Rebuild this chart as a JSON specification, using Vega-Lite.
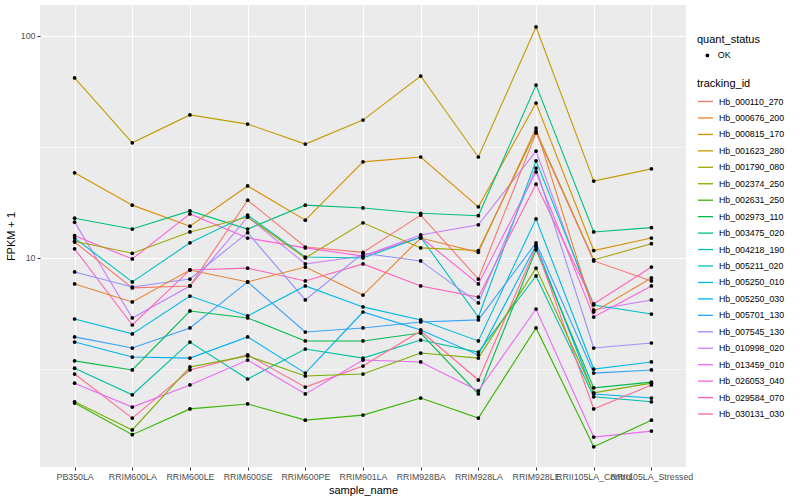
{
  "$schema": "https://vega.github.io/schema/vega-lite/v6.json",
  "width": 646,
  "height": 462,
  "autosize": "none",
  "padding": {"left": 40, "top": 5, "right": 114, "bottom": 33},
  "background": "white",
  "config": {
    "font": "Liberation Sans",
    "view": {"fill": "#EBEBEB", "stroke": null},
    "axis": {
      "domain": false,
      "grid": true,
      "gridColor": "#FFFFFF",
      "gridWidth": 1.1,
      "tickColor": "#333333",
      "tickSize": 3,
      "tickWidth": 1,
      "labelColor": "#4D4D4D",
      "labelFontSize": 8.8,
      "labelPadding": 2,
      "titleColor": "#000000",
      "titleFontSize": 11,
      "titleFontWeight": "normal"
    },
    "legend": {
      "titleFontSize": 11,
      "titleFontWeight": "normal",
      "titleColor": "#000000",
      "labelFontSize": 8.8,
      "labelColor": "#000000",
      "padding": 0
    }
  },
  "datasets": {
    "fpkm": [
      {"tracking_id":"Hb_001623_280","sample_name":"PB350LA","fpkm":64.7,"quant_status":"OK"},
      {"tracking_id":"Hb_001623_280","sample_name":"RRIM600LA","fpkm":33.0,"quant_status":"OK"},
      {"tracking_id":"Hb_001623_280","sample_name":"RRIM600LE","fpkm":44.1,"quant_status":"OK"},
      {"tracking_id":"Hb_001623_280","sample_name":"RRIM600SE","fpkm":40.1,"quant_status":"OK"},
      {"tracking_id":"Hb_001623_280","sample_name":"RRIM600PE","fpkm":32.6,"quant_status":"OK"},
      {"tracking_id":"Hb_001623_280","sample_name":"RRIM901LA","fpkm":41.8,"quant_status":"OK"},
      {"tracking_id":"Hb_001623_280","sample_name":"RRIM928BA","fpkm":66.0,"quant_status":"OK"},
      {"tracking_id":"Hb_001623_280","sample_name":"RRIM928LA","fpkm":28.5,"quant_status":"OK"},
      {"tracking_id":"Hb_001623_280","sample_name":"RRIM928LE","fpkm":109.8,"quant_status":"OK"},
      {"tracking_id":"Hb_001623_280","sample_name":"RRII105LA_Control","fpkm":22.2,"quant_status":"OK"},
      {"tracking_id":"Hb_001623_280","sample_name":"RRII105LA_Stressed","fpkm":25.2,"quant_status":"OK"},

      {"tracking_id":"Hb_000815_170","sample_name":"PB350LA","fpkm":24.2,"quant_status":"OK"},
      {"tracking_id":"Hb_000815_170","sample_name":"RRIM600LA","fpkm":17.3,"quant_status":"OK"},
      {"tracking_id":"Hb_000815_170","sample_name":"RRIM600LE","fpkm":13.9,"quant_status":"OK"},
      {"tracking_id":"Hb_000815_170","sample_name":"RRIM600SE","fpkm":21.1,"quant_status":"OK"},
      {"tracking_id":"Hb_000815_170","sample_name":"RRIM600PE","fpkm":14.8,"quant_status":"OK"},
      {"tracking_id":"Hb_000815_170","sample_name":"RRIM901LA","fpkm":27.1,"quant_status":"OK"},
      {"tracking_id":"Hb_000815_170","sample_name":"RRIM928BA","fpkm":28.5,"quant_status":"OK"},
      {"tracking_id":"Hb_000815_170","sample_name":"RRIM928LA","fpkm":17.0,"quant_status":"OK"},
      {"tracking_id":"Hb_000815_170","sample_name":"RRIM928LE","fpkm":49.9,"quant_status":"OK"},
      {"tracking_id":"Hb_000815_170","sample_name":"RRII105LA_Control","fpkm":10.8,"quant_status":"OK"},
      {"tracking_id":"Hb_000815_170","sample_name":"RRII105LA_Stressed","fpkm":12.3,"quant_status":"OK"},

      {"tracking_id":"Hb_003475_020","sample_name":"PB350LA","fpkm":15.1,"quant_status":"OK"},
      {"tracking_id":"Hb_003475_020","sample_name":"RRIM600LA","fpkm":13.5,"quant_status":"OK"},
      {"tracking_id":"Hb_003475_020","sample_name":"RRIM600LE","fpkm":16.3,"quant_status":"OK"},
      {"tracking_id":"Hb_003475_020","sample_name":"RRIM600SE","fpkm":13.5,"quant_status":"OK"},
      {"tracking_id":"Hb_003475_020","sample_name":"RRIM600PE","fpkm":17.3,"quant_status":"OK"},
      {"tracking_id":"Hb_003475_020","sample_name":"RRIM901LA","fpkm":16.8,"quant_status":"OK"},
      {"tracking_id":"Hb_003475_020","sample_name":"RRIM928BA","fpkm":15.9,"quant_status":"OK"},
      {"tracking_id":"Hb_003475_020","sample_name":"RRIM928LA","fpkm":15.5,"quant_status":"OK"},
      {"tracking_id":"Hb_003475_020","sample_name":"RRIM928LE","fpkm":60.1,"quant_status":"OK"},
      {"tracking_id":"Hb_003475_020","sample_name":"RRII105LA_Control","fpkm":13.1,"quant_status":"OK"},
      {"tracking_id":"Hb_003475_020","sample_name":"RRII105LA_Stressed","fpkm":13.7,"quant_status":"OK"},

      {"tracking_id":"Hb_010998_020","sample_name":"PB350LA","fpkm":14.5,"quant_status":"OK"},
      {"tracking_id":"Hb_010998_020","sample_name":"RRIM600LA","fpkm":5.37,"quant_status":"OK"},
      {"tracking_id":"Hb_010998_020","sample_name":"RRIM600LE","fpkm":7.48,"quant_status":"OK"},
      {"tracking_id":"Hb_010998_020","sample_name":"RRIM600SE","fpkm":15.3,"quant_status":"OK"},
      {"tracking_id":"Hb_010998_020","sample_name":"RRIM600PE","fpkm":9.4,"quant_status":"OK"},
      {"tracking_id":"Hb_010998_020","sample_name":"RRIM901LA","fpkm":10.2,"quant_status":"OK"},
      {"tracking_id":"Hb_010998_020","sample_name":"RRIM928BA","fpkm":12.7,"quant_status":"OK"},
      {"tracking_id":"Hb_010998_020","sample_name":"RRIM928LA","fpkm":14.1,"quant_status":"OK"},
      {"tracking_id":"Hb_010998_020","sample_name":"RRIM928LE","fpkm":30.3,"quant_status":"OK"},
      {"tracking_id":"Hb_010998_020","sample_name":"RRII105LA_Control","fpkm":5.83,"quant_status":"OK"},
      {"tracking_id":"Hb_010998_020","sample_name":"RRII105LA_Stressed","fpkm":6.47,"quant_status":"OK"},

      {"tracking_id":"Hb_026053_040","sample_name":"PB350LA","fpkm":12.6,"quant_status":"OK"},
      {"tracking_id":"Hb_026053_040","sample_name":"RRIM600LA","fpkm":9.9,"quant_status":"OK"},
      {"tracking_id":"Hb_026053_040","sample_name":"RRIM600LE","fpkm":15.8,"quant_status":"OK"},
      {"tracking_id":"Hb_026053_040","sample_name":"RRIM600SE","fpkm":12.3,"quant_status":"OK"},
      {"tracking_id":"Hb_026053_040","sample_name":"RRIM600PE","fpkm":11.1,"quant_status":"OK"},
      {"tracking_id":"Hb_026053_040","sample_name":"RRIM901LA","fpkm":10.2,"quant_status":"OK"},
      {"tracking_id":"Hb_026053_040","sample_name":"RRIM928BA","fpkm":12.4,"quant_status":"OK"},
      {"tracking_id":"Hb_026053_040","sample_name":"RRIM928LA","fpkm":7.64,"quant_status":"OK"},
      {"tracking_id":"Hb_026053_040","sample_name":"RRIM928LE","fpkm":24.4,"quant_status":"OK"},
      {"tracking_id":"Hb_026053_040","sample_name":"RRII105LA_Control","fpkm":5.42,"quant_status":"OK"},
      {"tracking_id":"Hb_026053_040","sample_name":"RRII105LA_Stressed","fpkm":7.48,"quant_status":"OK"},

      {"tracking_id":"Hb_005211_020","sample_name":"PB350LA","fpkm":12.3,"quant_status":"OK"},
      {"tracking_id":"Hb_005211_020","sample_name":"RRIM600LA","fpkm":7.8,"quant_status":"OK"},
      {"tracking_id":"Hb_005211_020","sample_name":"RRIM600LE","fpkm":11.7,"quant_status":"OK"},
      {"tracking_id":"Hb_005211_020","sample_name":"RRIM600SE","fpkm":15.6,"quant_status":"OK"},
      {"tracking_id":"Hb_005211_020","sample_name":"RRIM600PE","fpkm":10.1,"quant_status":"OK"},
      {"tracking_id":"Hb_005211_020","sample_name":"RRIM901LA","fpkm":10.0,"quant_status":"OK"},
      {"tracking_id":"Hb_005211_020","sample_name":"RRIM928BA","fpkm":12.4,"quant_status":"OK"},
      {"tracking_id":"Hb_005211_020","sample_name":"RRIM928LA","fpkm":5.42,"quant_status":"OK"},
      {"tracking_id":"Hb_005211_020","sample_name":"RRIM928LE","fpkm":27.4,"quant_status":"OK"},
      {"tracking_id":"Hb_005211_020","sample_name":"RRII105LA_Control","fpkm":6.14,"quant_status":"OK"},
      {"tracking_id":"Hb_005211_020","sample_name":"RRII105LA_Stressed","fpkm":5.59,"quant_status":"OK"},

      {"tracking_id":"Hb_001790_080","sample_name":"PB350LA","fpkm":11.9,"quant_status":"OK"},
      {"tracking_id":"Hb_001790_080","sample_name":"RRIM600LA","fpkm":10.5,"quant_status":"OK"},
      {"tracking_id":"Hb_001790_080","sample_name":"RRIM600LE","fpkm":13.1,"quant_status":"OK"},
      {"tracking_id":"Hb_001790_080","sample_name":"RRIM600SE","fpkm":15.3,"quant_status":"OK"},
      {"tracking_id":"Hb_001790_080","sample_name":"RRIM600PE","fpkm":10.0,"quant_status":"OK"},
      {"tracking_id":"Hb_001790_080","sample_name":"RRIM901LA","fpkm":14.4,"quant_status":"OK"},
      {"tracking_id":"Hb_001790_080","sample_name":"RRIM928BA","fpkm":11.1,"quant_status":"OK"},
      {"tracking_id":"Hb_001790_080","sample_name":"RRIM928LA","fpkm":10.8,"quant_status":"OK"},
      {"tracking_id":"Hb_001790_080","sample_name":"RRIM928LE","fpkm":37.3,"quant_status":"OK"},
      {"tracking_id":"Hb_001790_080","sample_name":"RRII105LA_Control","fpkm":9.8,"quant_status":"OK"},
      {"tracking_id":"Hb_001790_080","sample_name":"RRII105LA_Stressed","fpkm":11.6,"quant_status":"OK"},

      {"tracking_id":"Hb_000110_270","sample_name":"PB350LA","fpkm":11.8,"quant_status":"OK"},
      {"tracking_id":"Hb_000110_270","sample_name":"RRIM600LA","fpkm":7.33,"quant_status":"OK"},
      {"tracking_id":"Hb_000110_270","sample_name":"RRIM600LE","fpkm":7.48,"quant_status":"OK"},
      {"tracking_id":"Hb_000110_270","sample_name":"RRIM600SE","fpkm":18.2,"quant_status":"OK"},
      {"tracking_id":"Hb_000110_270","sample_name":"RRIM600PE","fpkm":11.2,"quant_status":"OK"},
      {"tracking_id":"Hb_000110_270","sample_name":"RRIM901LA","fpkm":10.6,"quant_status":"OK"},
      {"tracking_id":"Hb_000110_270","sample_name":"RRIM928BA","fpkm":15.6,"quant_status":"OK"},
      {"tracking_id":"Hb_000110_270","sample_name":"RRIM928LA","fpkm":8.04,"quant_status":"OK"},
      {"tracking_id":"Hb_000110_270","sample_name":"RRIM928LE","fpkm":36.6,"quant_status":"OK"},
      {"tracking_id":"Hb_000110_270","sample_name":"RRII105LA_Control","fpkm":9.7,"quant_status":"OK"},
      {"tracking_id":"Hb_000110_270","sample_name":"RRII105LA_Stressed","fpkm":7.88,"quant_status":"OK"},

      {"tracking_id":"Hb_029584_070","sample_name":"PB350LA","fpkm":11.0,"quant_status":"OK"},
      {"tracking_id":"Hb_029584_070","sample_name":"RRIM600LA","fpkm":4.99,"quant_status":"OK"},
      {"tracking_id":"Hb_029584_070","sample_name":"RRIM600LE","fpkm":8.83,"quant_status":"OK"},
      {"tracking_id":"Hb_029584_070","sample_name":"RRIM600SE","fpkm":9.0,"quant_status":"OK"},
      {"tracking_id":"Hb_029584_070","sample_name":"RRIM600PE","fpkm":7.88,"quant_status":"OK"},
      {"tracking_id":"Hb_029584_070","sample_name":"RRIM901LA","fpkm":9.4,"quant_status":"OK"},
      {"tracking_id":"Hb_029584_070","sample_name":"RRIM928BA","fpkm":7.48,"quant_status":"OK"},
      {"tracking_id":"Hb_029584_070","sample_name":"RRIM928LA","fpkm":6.67,"quant_status":"OK"},
      {"tracking_id":"Hb_029584_070","sample_name":"RRIM928LE","fpkm":21.5,"quant_status":"OK"},
      {"tracking_id":"Hb_029584_070","sample_name":"RRII105LA_Control","fpkm":6.21,"quant_status":"OK"},
      {"tracking_id":"Hb_029584_070","sample_name":"RRII105LA_Stressed","fpkm":9.1,"quant_status":"OK"},

      {"tracking_id":"Hb_007545_130","sample_name":"PB350LA","fpkm":8.65,"quant_status":"OK"},
      {"tracking_id":"Hb_007545_130","sample_name":"RRIM600LA","fpkm":7.4,"quant_status":"OK"},
      {"tracking_id":"Hb_007545_130","sample_name":"RRIM600LE","fpkm":8.04,"quant_status":"OK"},
      {"tracking_id":"Hb_007545_130","sample_name":"RRIM600SE","fpkm":13.0,"quant_status":"OK"},
      {"tracking_id":"Hb_007545_130","sample_name":"RRIM600PE","fpkm":6.47,"quant_status":"OK"},
      {"tracking_id":"Hb_007545_130","sample_name":"RRIM901LA","fpkm":10.5,"quant_status":"OK"},
      {"tracking_id":"Hb_007545_130","sample_name":"RRIM928BA","fpkm":9.7,"quant_status":"OK"},
      {"tracking_id":"Hb_007545_130","sample_name":"RRIM928LA","fpkm":6.27,"quant_status":"OK"},
      {"tracking_id":"Hb_007545_130","sample_name":"RRIM928LE","fpkm":25.4,"quant_status":"OK"},
      {"tracking_id":"Hb_007545_130","sample_name":"RRII105LA_Control","fpkm":3.93,"quant_status":"OK"},
      {"tracking_id":"Hb_007545_130","sample_name":"RRII105LA_Stressed","fpkm":4.14,"quant_status":"OK"},

      {"tracking_id":"Hb_000676_200","sample_name":"PB350LA","fpkm":7.64,"quant_status":"OK"},
      {"tracking_id":"Hb_000676_200","sample_name":"RRIM600LA","fpkm":6.34,"quant_status":"OK"},
      {"tracking_id":"Hb_000676_200","sample_name":"RRIM600LE","fpkm":8.83,"quant_status":"OK"},
      {"tracking_id":"Hb_000676_200","sample_name":"RRIM600SE","fpkm":7.8,"quant_status":"OK"},
      {"tracking_id":"Hb_000676_200","sample_name":"RRIM600PE","fpkm":9.1,"quant_status":"OK"},
      {"tracking_id":"Hb_000676_200","sample_name":"RRIM901LA","fpkm":6.81,"quant_status":"OK"},
      {"tracking_id":"Hb_000676_200","sample_name":"RRIM928BA","fpkm":12.3,"quant_status":"OK"},
      {"tracking_id":"Hb_000676_200","sample_name":"RRIM928LA","fpkm":10.6,"quant_status":"OK"},
      {"tracking_id":"Hb_000676_200","sample_name":"RRIM928LE","fpkm":38.5,"quant_status":"OK"},
      {"tracking_id":"Hb_000676_200","sample_name":"RRII105LA_Control","fpkm":5.71,"quant_status":"OK"},
      {"tracking_id":"Hb_000676_200","sample_name":"RRII105LA_Stressed","fpkm":8.13,"quant_status":"OK"},

      {"tracking_id":"Hb_005250_010","sample_name":"PB350LA","fpkm":5.31,"quant_status":"OK"},
      {"tracking_id":"Hb_005250_010","sample_name":"RRIM600LA","fpkm":4.55,"quant_status":"OK"},
      {"tracking_id":"Hb_005250_010","sample_name":"RRIM600LE","fpkm":6.74,"quant_status":"OK"},
      {"tracking_id":"Hb_005250_010","sample_name":"RRIM600SE","fpkm":5.48,"quant_status":"OK"},
      {"tracking_id":"Hb_005250_010","sample_name":"RRIM600PE","fpkm":7.48,"quant_status":"OK"},
      {"tracking_id":"Hb_005250_010","sample_name":"RRIM901LA","fpkm":6.02,"quant_status":"OK"},
      {"tracking_id":"Hb_005250_010","sample_name":"RRIM928BA","fpkm":5.26,"quant_status":"OK"},
      {"tracking_id":"Hb_005250_010","sample_name":"RRIM928LA","fpkm":4.23,"quant_status":"OK"},
      {"tracking_id":"Hb_005250_010","sample_name":"RRIM928LE","fpkm":15.0,"quant_status":"OK"},
      {"tracking_id":"Hb_005250_010","sample_name":"RRII105LA_Control","fpkm":3.16,"quant_status":"OK"},
      {"tracking_id":"Hb_005250_010","sample_name":"RRII105LA_Stressed","fpkm":3.4,"quant_status":"OK"},

      {"tracking_id":"Hb_005701_130","sample_name":"PB350LA","fpkm":4.41,"quant_status":"OK"},
      {"tracking_id":"Hb_005701_130","sample_name":"RRIM600LA","fpkm":3.93,"quant_status":"OK"},
      {"tracking_id":"Hb_005701_130","sample_name":"RRIM600LE","fpkm":4.84,"quant_status":"OK"},
      {"tracking_id":"Hb_005701_130","sample_name":"RRIM600SE","fpkm":7.8,"quant_status":"OK"},
      {"tracking_id":"Hb_005701_130","sample_name":"RRIM600PE","fpkm":4.64,"quant_status":"OK"},
      {"tracking_id":"Hb_005701_130","sample_name":"RRIM901LA","fpkm":4.84,"quant_status":"OK"},
      {"tracking_id":"Hb_005701_130","sample_name":"RRIM928BA","fpkm":5.15,"quant_status":"OK"},
      {"tracking_id":"Hb_005701_130","sample_name":"RRIM928LA","fpkm":5.26,"quant_status":"OK"},
      {"tracking_id":"Hb_005701_130","sample_name":"RRIM928LE","fpkm":11.7,"quant_status":"OK"},
      {"tracking_id":"Hb_005701_130","sample_name":"RRII105LA_Control","fpkm":3.03,"quant_status":"OK"},
      {"tracking_id":"Hb_005701_130","sample_name":"RRII105LA_Stressed","fpkm":3.13,"quant_status":"OK"},

      {"tracking_id":"Hb_005250_030","sample_name":"PB350LA","fpkm":4.18,"quant_status":"OK"},
      {"tracking_id":"Hb_005250_030","sample_name":"RRIM600LA","fpkm":3.58,"quant_status":"OK"},
      {"tracking_id":"Hb_005250_030","sample_name":"RRIM600LE","fpkm":3.54,"quant_status":"OK"},
      {"tracking_id":"Hb_005250_030","sample_name":"RRIM600SE","fpkm":4.41,"quant_status":"OK"},
      {"tracking_id":"Hb_005250_030","sample_name":"RRIM600PE","fpkm":3.03,"quant_status":"OK"},
      {"tracking_id":"Hb_005250_030","sample_name":"RRIM901LA","fpkm":5.71,"quant_status":"OK"},
      {"tracking_id":"Hb_005250_030","sample_name":"RRIM928BA","fpkm":4.74,"quant_status":"OK"},
      {"tracking_id":"Hb_005250_030","sample_name":"RRIM928LA","fpkm":3.66,"quant_status":"OK"},
      {"tracking_id":"Hb_005250_030","sample_name":"RRIM928LE","fpkm":11.4,"quant_status":"OK"},
      {"tracking_id":"Hb_005250_030","sample_name":"RRII105LA_Control","fpkm":2.44,"quant_status":"OK"},
      {"tracking_id":"Hb_005250_030","sample_name":"RRII105LA_Stressed","fpkm":2.34,"quant_status":"OK"},

      {"tracking_id":"Hb_002973_110","sample_name":"PB350LA","fpkm":3.44,"quant_status":"OK"},
      {"tracking_id":"Hb_002973_110","sample_name":"RRIM600LA","fpkm":3.13,"quant_status":"OK"},
      {"tracking_id":"Hb_002973_110","sample_name":"RRIM600LE","fpkm":5.77,"quant_status":"OK"},
      {"tracking_id":"Hb_002973_110","sample_name":"RRIM600SE","fpkm":5.37,"quant_status":"OK"},
      {"tracking_id":"Hb_002973_110","sample_name":"RRIM600PE","fpkm":4.23,"quant_status":"OK"},
      {"tracking_id":"Hb_002973_110","sample_name":"RRIM901LA","fpkm":4.23,"quant_status":"OK"},
      {"tracking_id":"Hb_002973_110","sample_name":"RRIM928BA","fpkm":4.59,"quant_status":"OK"},
      {"tracking_id":"Hb_002973_110","sample_name":"RRIM928LA","fpkm":2.44,"quant_status":"OK"},
      {"tracking_id":"Hb_002973_110","sample_name":"RRIM928LE","fpkm":10.9,"quant_status":"OK"},
      {"tracking_id":"Hb_002973_110","sample_name":"RRII105LA_Control","fpkm":2.6,"quant_status":"OK"},
      {"tracking_id":"Hb_002973_110","sample_name":"RRII105LA_Stressed","fpkm":2.76,"quant_status":"OK"},

      {"tracking_id":"Hb_004218_190","sample_name":"PB350LA","fpkm":3.19,"quant_status":"OK"},
      {"tracking_id":"Hb_004218_190","sample_name":"RRIM600LA","fpkm":2.42,"quant_status":"OK"},
      {"tracking_id":"Hb_004218_190","sample_name":"RRIM600LE","fpkm":4.18,"quant_status":"OK"},
      {"tracking_id":"Hb_004218_190","sample_name":"RRIM600SE","fpkm":2.85,"quant_status":"OK"},
      {"tracking_id":"Hb_004218_190","sample_name":"RRIM600PE","fpkm":3.89,"quant_status":"OK"},
      {"tracking_id":"Hb_004218_190","sample_name":"RRIM901LA","fpkm":3.54,"quant_status":"OK"},
      {"tracking_id":"Hb_004218_190","sample_name":"RRIM928BA","fpkm":4.27,"quant_status":"OK"},
      {"tracking_id":"Hb_004218_190","sample_name":"RRIM928LA","fpkm":3.77,"quant_status":"OK"},
      {"tracking_id":"Hb_004218_190","sample_name":"RRIM928LE","fpkm":8.3,"quant_status":"OK"},
      {"tracking_id":"Hb_004218_190","sample_name":"RRII105LA_Control","fpkm":2.37,"quant_status":"OK"},
      {"tracking_id":"Hb_004218_190","sample_name":"RRII105LA_Stressed","fpkm":2.25,"quant_status":"OK"},

      {"tracking_id":"Hb_030131_030","sample_name":"PB350LA","fpkm":3.0,"quant_status":"OK"},
      {"tracking_id":"Hb_030131_030","sample_name":"RRIM600LA","fpkm":1.9,"quant_status":"OK"},
      {"tracking_id":"Hb_030131_030","sample_name":"RRIM600LE","fpkm":3.13,"quant_status":"OK"},
      {"tracking_id":"Hb_030131_030","sample_name":"RRIM600SE","fpkm":3.66,"quant_status":"OK"},
      {"tracking_id":"Hb_030131_030","sample_name":"RRIM600PE","fpkm":2.62,"quant_status":"OK"},
      {"tracking_id":"Hb_030131_030","sample_name":"RRIM901LA","fpkm":3.26,"quant_status":"OK"},
      {"tracking_id":"Hb_030131_030","sample_name":"RRIM928BA","fpkm":4.69,"quant_status":"OK"},
      {"tracking_id":"Hb_030131_030","sample_name":"RRIM928LA","fpkm":2.82,"quant_status":"OK"},
      {"tracking_id":"Hb_030131_030","sample_name":"RRIM928LE","fpkm":11.2,"quant_status":"OK"},
      {"tracking_id":"Hb_030131_030","sample_name":"RRII105LA_Control","fpkm":2.09,"quant_status":"OK"},
      {"tracking_id":"Hb_030131_030","sample_name":"RRII105LA_Stressed","fpkm":2.68,"quant_status":"OK"},

      {"tracking_id":"Hb_013459_010","sample_name":"PB350LA","fpkm":2.73,"quant_status":"OK"},
      {"tracking_id":"Hb_013459_010","sample_name":"RRIM600LA","fpkm":2.13,"quant_status":"OK"},
      {"tracking_id":"Hb_013459_010","sample_name":"RRIM600LE","fpkm":2.68,"quant_status":"OK"},
      {"tracking_id":"Hb_013459_010","sample_name":"RRIM600SE","fpkm":3.47,"quant_status":"OK"},
      {"tracking_id":"Hb_013459_010","sample_name":"RRIM600PE","fpkm":2.44,"quant_status":"OK"},
      {"tracking_id":"Hb_013459_010","sample_name":"RRIM901LA","fpkm":3.47,"quant_status":"OK"},
      {"tracking_id":"Hb_013459_010","sample_name":"RRIM928BA","fpkm":3.4,"quant_status":"OK"},
      {"tracking_id":"Hb_013459_010","sample_name":"RRIM928LA","fpkm":2.52,"quant_status":"OK"},
      {"tracking_id":"Hb_013459_010","sample_name":"RRIM928LE","fpkm":5.89,"quant_status":"OK"},
      {"tracking_id":"Hb_013459_010","sample_name":"RRII105LA_Control","fpkm":1.56,"quant_status":"OK"},
      {"tracking_id":"Hb_013459_010","sample_name":"RRII105LA_Stressed","fpkm":1.66,"quant_status":"OK"},

      {"tracking_id":"Hb_002374_250","sample_name":"PB350LA","fpkm":2.25,"quant_status":"OK"},
      {"tracking_id":"Hb_002374_250","sample_name":"RRIM600LA","fpkm":1.68,"quant_status":"OK"},
      {"tracking_id":"Hb_002374_250","sample_name":"RRIM600LE","fpkm":3.23,"quant_status":"OK"},
      {"tracking_id":"Hb_002374_250","sample_name":"RRIM600SE","fpkm":3.62,"quant_status":"OK"},
      {"tracking_id":"Hb_002374_250","sample_name":"RRIM600PE","fpkm":2.94,"quant_status":"OK"},
      {"tracking_id":"Hb_002374_250","sample_name":"RRIM901LA","fpkm":3.0,"quant_status":"OK"},
      {"tracking_id":"Hb_002374_250","sample_name":"RRIM928BA","fpkm":3.73,"quant_status":"OK"},
      {"tracking_id":"Hb_002374_250","sample_name":"RRIM928LA","fpkm":3.54,"quant_status":"OK"},
      {"tracking_id":"Hb_002374_250","sample_name":"RRIM928LE","fpkm":9.0,"quant_status":"OK"},
      {"tracking_id":"Hb_002374_250","sample_name":"RRII105LA_Control","fpkm":2.47,"quant_status":"OK"},
      {"tracking_id":"Hb_002374_250","sample_name":"RRII105LA_Stressed","fpkm":2.73,"quant_status":"OK"},

      {"tracking_id":"Hb_002631_250","sample_name":"PB350LA","fpkm":2.22,"quant_status":"OK"},
      {"tracking_id":"Hb_002631_250","sample_name":"RRIM600LA","fpkm":1.6,"quant_status":"OK"},
      {"tracking_id":"Hb_002631_250","sample_name":"RRIM600LE","fpkm":2.09,"quant_status":"OK"},
      {"tracking_id":"Hb_002631_250","sample_name":"RRIM600SE","fpkm":2.2,"quant_status":"OK"},
      {"tracking_id":"Hb_002631_250","sample_name":"RRIM600PE","fpkm":1.86,"quant_status":"OK"},
      {"tracking_id":"Hb_002631_250","sample_name":"RRIM901LA","fpkm":1.96,"quant_status":"OK"},
      {"tracking_id":"Hb_002631_250","sample_name":"RRIM928BA","fpkm":2.34,"quant_status":"OK"},
      {"tracking_id":"Hb_002631_250","sample_name":"RRIM928LA","fpkm":1.9,"quant_status":"OK"},
      {"tracking_id":"Hb_002631_250","sample_name":"RRIM928LE","fpkm":4.84,"quant_status":"OK"},
      {"tracking_id":"Hb_002631_250","sample_name":"RRII105LA_Control","fpkm":1.41,"quant_status":"OK"},
      {"tracking_id":"Hb_002631_250","sample_name":"RRII105LA_Stressed","fpkm":1.86,"quant_status":"OK"}
    ]
  },
  "data": {"name": "fpkm"},
  "encoding": {
    "x": {
      "field": "sample_name",
      "type": "nominal",
      "sort": ["PB350LA","RRIM600LA","RRIM600LE","RRIM600SE","RRIM600PE","RRIM901LA","RRIM928BA","RRIM928LA","RRIM928LE","RRII105LA_Control","RRII105LA_Stressed"],
      "scale": {"type": "point", "padding": 0.6},
      "axis": {"title": "sample_name", "labelAngle": 0, "titlePadding": 4, "gridWidth": 1.1}
    },
    "y": {
      "field": "fpkm",
      "type": "quantitative",
      "scale": {"type": "log", "domain": [1.144, 137.9], "nice": false, "zero": false},
      "axis": {
        "title": "FPKM + 1",
        "values": [3.1623, 10, 31.623, 100],
        "labelExpr": "datum.value == 100 ? '100' : datum.value == 10 ? '10' : ''",
        "gridWidth": {"condition": {"test": "datum.value == 10 || datum.value == 100", "value": 1.1}, "value": 0.55},
        "tickOpacity": {"condition": {"test": "datum.value == 10 || datum.value == 100", "value": 1}, "value": 0},
        "titlePadding": 4
      }
    }
  },
  "layer": [
    {
      "mark": {"type": "line", "strokeWidth": 1.1},
      "encoding": {
        "color": {
          "field": "tracking_id",
          "type": "nominal",
          "scale": {
            "domain": ["Hb_000110_270","Hb_000676_200","Hb_000815_170","Hb_001623_280","Hb_001790_080","Hb_002374_250","Hb_002631_250","Hb_002973_110","Hb_003475_020","Hb_004218_190","Hb_005211_020","Hb_005250_010","Hb_005250_030","Hb_005701_130","Hb_007545_130","Hb_010998_020","Hb_013459_010","Hb_026053_040","Hb_029584_070","Hb_030131_030"],
            "range": ["#F8766D","#EA8331","#D89000","#C09B00","#A3A500","#7CAE00","#39B600","#00BB4E","#00BF7D","#00C1A3","#00BFC4","#00BAE0","#00B0F6","#35A2FF","#9590FF","#C77CFF","#E76BF3","#FA62DB","#FF62BC","#FF6C91"]
          },
          "legend": {
            "title": "tracking_id",
            "orient": "none",
            "legendX": 657,
            "legendY": 73,
            "symbolType": "stroke",
            "symbolSize": 225,
            "symbolStrokeWidth": 1.3,
            "rowPadding": 2.45,
            "titlePadding": 4,
            "labelOffset": 5
          }
        }
      }
    },
    {
      "mark": {"type": "point", "filled": true, "color": "#000000", "opacity": 1, "size": 14},
      "encoding": {
        "shape": {
          "field": "quant_status",
          "type": "nominal",
          "scale": {"range": ["circle"]},
          "legend": {
            "title": "quant_status",
            "orient": "none",
            "legendX": 657,
            "legendY": 29,
            "symbolFillColor": "#000000",
            "symbolStrokeColor": "#000000",
            "symbolSize": 14,
            "symbolOffset": 6,
            "titlePadding": 6,
            "labelOffset": 6
          }
        }
      }
    }
  ]
}
